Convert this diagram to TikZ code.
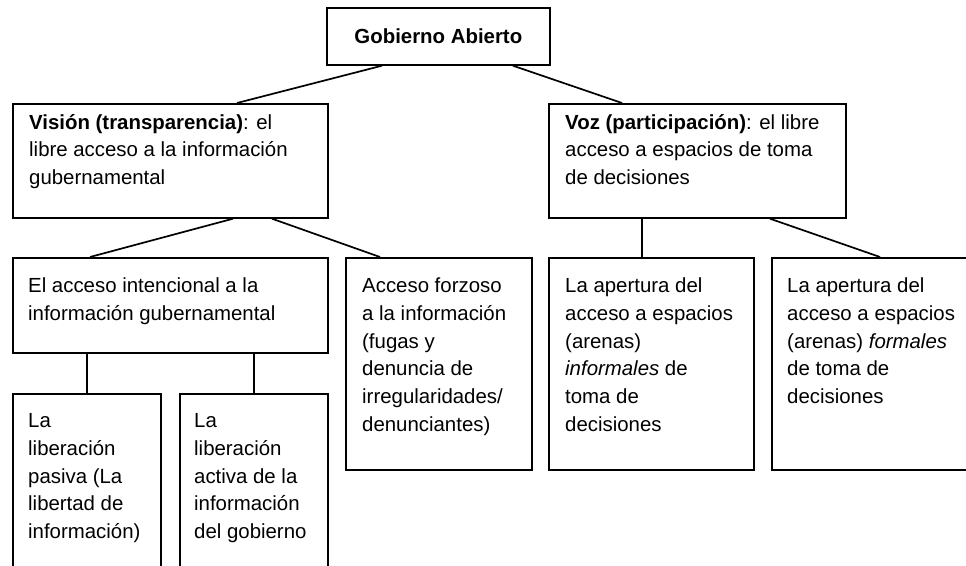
\documentclass[tikz,border=0pt]{standalone}
\usepackage{fontspec}
\setmainfont{Liberation Sans}
\begin{document}
\begin{tikzpicture}[x=1pt,y=-1pt,
  box/.style={draw, line width=1.7pt, inner sep=0pt, anchor=north west},
  txt/.style={inner sep=0pt, anchor=base west, align=left, font={\fontsize{20.4pt}{27.8pt}\selectfont}},
  conn/.style={line width=1.7pt}]
\useasboundingbox (0,0) rectangle (966,565);
\clip (0,0) rectangle (966,565);
% boxes
\node[box, minimum width=223pt, minimum height=57pt, font={\fontsize{20.4pt}{27.8pt}\selectfont\bfseries}] (gob) at (326,7) {Gobierno Abierto};
\node[box, minimum width=315pt, minimum height=114pt] (vis) at (12,103) {};
\node[box, minimum width=297pt, minimum height=114pt] (voz) at (548,103) {};
\node[box, minimum width=315pt, minimum height=95pt] (acc) at (12,257) {};
\node[box, minimum width=186pt, minimum height=212pt] (forz) at (345,257) {};
\node[box, minimum width=205pt, minimum height=212pt] (inf) at (548,257) {};
\node[box, minimum width=230pt, minimum height=212pt] (form) at (771,257) {};
\node[box, minimum width=148pt, minimum height=190pt] (pas) at (12,393) {};
\node[box, minimum width=148pt, minimum height=190pt] (act) at (179,393) {};
% texts (anchored at the baseline of their last line)
\node[txt] (visT) at (29,184.6) {\textbf{Visión (transparencia)}: el\\libre acceso a la información\\gubernamental};
\node[txt] (vozT) at (565,184.6) {\textbf{Voz (participación)}: el libre\\acceso a espacios de toma\\de decisiones};
\node[txt] (accT) at (28,320.3) {El acceso intencional a la\\información gubernamental};
\node[txt] (forzT) at (362,431.5) {Acceso forzoso\\a la información\\(fugas y\\denuncia de\\irregularidades/\\denunciantes)};
\node[txt] (infT) at (565,431.5) {La apertura del\\acceso a espacios\\(arenas)\\\textit{informales} de\\toma de\\decisiones};
\node[txt] (formT) at (787,403.7) {La apertura del\\acceso a espacios\\(arenas) \textit{formales}\\de toma de\\decisiones};
\node[txt] (pasT) at (28,538.7) {La\\liberación\\pasiva (La\\libertad de\\información)};
\node[txt] (actT) at (194,538.7) {La\\liberación\\activa de la\\información\\del gobierno};
% connectors
\draw[conn] ([xshift=56pt]gob.south west) -- ([xshift=225pt]vis.north west);
\draw[conn] ([xshift=187pt]gob.south west) -- ([xshift=74pt]voz.north west);
\draw[conn] ([xshift=221pt]vis.south west) -- ([xshift=78pt]acc.north west);
\draw[conn] ([xshift=260pt]vis.south west) -- ([xshift=35pt]forz.north west);
\draw[conn] ([xshift=94pt]voz.south west) -- ([xshift=94pt]inf.north west);
\draw[conn] ([xshift=222pt]voz.south west) -- ([xshift=109pt]form.north west);
\draw[conn] (pas.north |- acc.south) -- (pas.north);
\draw[conn] (act.north |- acc.south) -- (act.north);
\end{tikzpicture}
\end{document}
